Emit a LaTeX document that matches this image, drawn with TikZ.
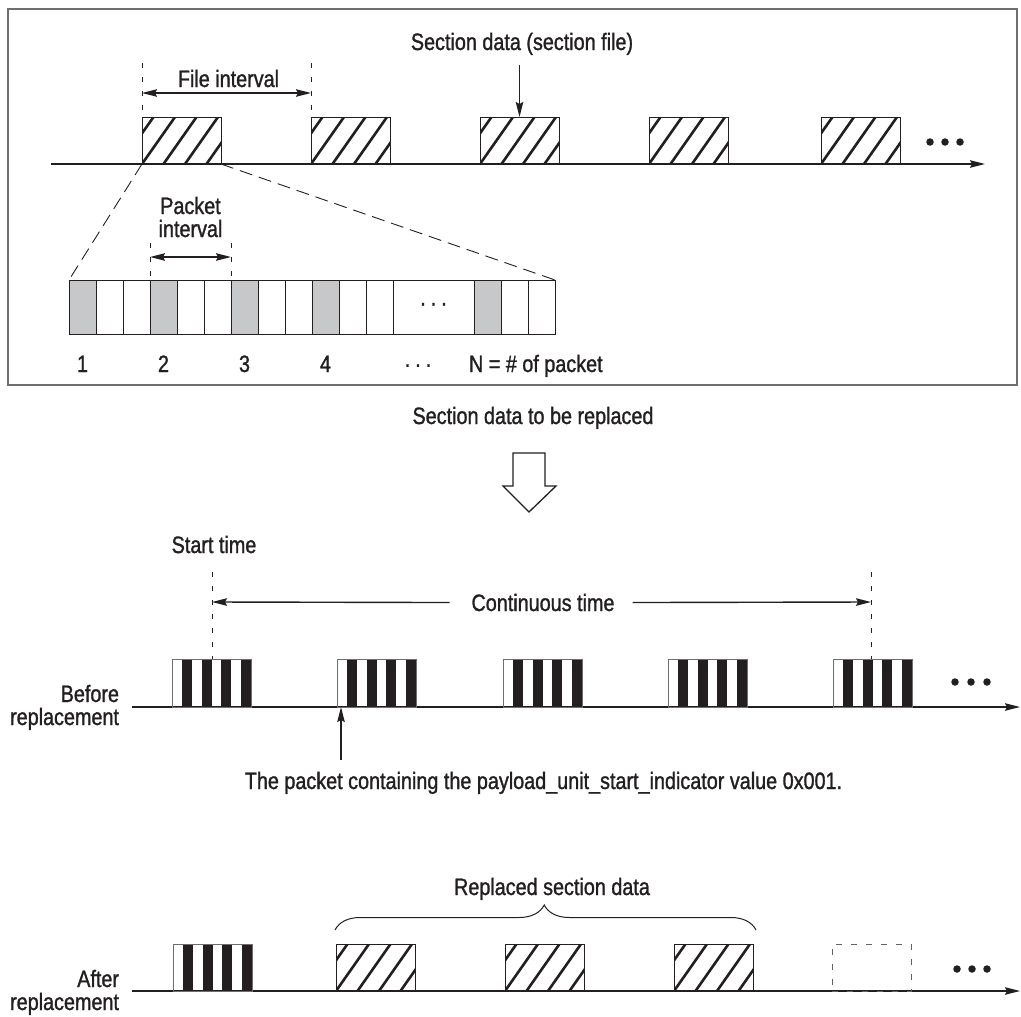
\documentclass[tikz,border=0pt]{standalone}
\usepackage{fontspec}
\setmainfont[FakeStretch=0.835,FakeBold=1.2]{Liberation Sans}
\usetikzlibrary{arrows.meta,decorations.pathreplacing,calc}
\definecolor{ink}{HTML}{231F20}
\definecolor{framegray}{HTML}{6D6E70}
\definecolor{cellgray}{HTML}{C7C8CA}
\begin{document}
\begin{tikzpicture}[x=1pt,y=-1pt,
  every node/.style={inner sep=0pt,outer sep=0pt},
  lbl/.style={font=\fontsize{23.7pt}{23pt}\selectfont,text=ink,anchor=base},
  lble/.style={lbl,anchor=base east},
  lblw/.style={lbl,anchor=base west},
  tipstyle/.style={-{Stealth[length=15pt,width=7.5pt,inset=2pt]}},
  axisline/.style={line width=1.4pt,draw=ink,tipstyle},
  arr/.style={line width=1.4pt,draw=ink,tipstyle},
  dblarr/.style={line width=1.4pt,draw=ink,{Stealth[length=15pt,width=7.5pt,inset=2pt]}-{Stealth[length=15pt,width=7.5pt,inset=2pt]}},
  vdash/.style={line width=0.9pt,draw=ink,dash pattern=on 5pt off 9pt},
  zoomdash/.style={line width=0.9pt,draw=ink,dash pattern=on 13pt off 7pt},
  hatchbox/.style={draw=ink,line width=1pt,minimum width=79pt,minimum height=47pt,anchor=north west,
    path picture={
      \foreach \k in {-1,...,3}{
        \draw[ink,line width=2.6pt] ([xshift={\k*21.5pt}]path picture bounding box.south west) -- ++(33pt,47pt);
      }
    }},
  stripebox/.style={draw=ink!65,line width=0.8pt,minimum width=79pt,minimum height=48pt,anchor=north west,
    path picture={
      \foreach \k in {1,3,5,7}{
        \fill[ink] ([xshift={\k*9.875pt}]path picture bounding box.south west) rectangle ++(9.875pt,48pt);
      }
    }},
  emptybox/.style={draw=ink!70,line width=0.9pt,dash pattern=on 6pt off 9pt,minimum width=79pt,minimum height=47pt,anchor=north west},
  cell/.style={draw=ink,line width=0.9pt,minimum width=27pt,minimum height=54pt,anchor=north west},
  gcell/.style={cell,fill=cellgray},
  dot/.style={circle,fill=ink,minimum size=7.5pt},
  brace/.style={draw=ink,line width=1pt,decorate,decoration={brace,amplitude=25pt,aspect=0.497}}
]
\useasboundingbox (0,0) rectangle (1021,1017);

% ---------- top panel ----------
\draw[framegray,line width=1.8pt] (8,9) rectangle (1017,385);

\coordinate (ax0) at (51,164);
\coordinate (ax1) at (985,164);
\draw[axisline] (ax0) -- (ax1);

\node[hatchbox] (f1) at (142,117) {};
\node[hatchbox] (f2) at (311,117) {};
\node[hatchbox] (f3) at (480,117) {};
\node[hatchbox] (f4) at (649,117) {};
\node[hatchbox] (f5) at (821,117) {};

\node[dot] (td1) at (930,142) {};
\node[dot] (td2) at (945,142) {};
\node[dot] (td3) at (960,142) {};

\node[lbl] (secdata) at (522,50) {Section data (section file)};
\draw[arr] ([yshift=-10pt]secdata.south -| f3.north) -- (f3.north);

\node[lbl] (fileint) at (228.5,87) {File interval};
\coordinate (fiL) at (142,63);
\coordinate (fiR) at (311,63);
\draw[vdash] (fiL) -- (f1.north west);
\draw[vdash] (fiR) -- (f2.north west);
\coordinate (faL) at (142,93);
\coordinate (faR) at (311,93);
\draw[dblarr] (faL) -- (faR);

% packet row
\foreach \i/\s in {0/gcell,1/cell,2/cell,3/gcell,4/cell,5/cell,6/gcell,7/cell,8/cell,9/gcell,10/cell,11/cell}
  \node[\s] (c\i) at ({69+27*\i},280) {};
\node[cell,minimum width=81pt,font=\fontsize{23.7pt}{23pt}\selectfont,text=ink] (cw) at (393,280) {·\,·\,·};
\node[gcell] (c12) at (474,280) {};
\node[cell] (c13) at (501,280) {};
\node[cell] (c14) at (528,280) {};

\draw[zoomdash] (f1.south west) -- (c0.north west);
\draw[zoomdash] (f1.south east) -- (c14.north east);

\node[lbl] (pk1) at (190.5,214) {Packet};
\node[lbl] (pk2) at (190.5,237) {interval};
\coordinate (piL) at (150,243);
\coordinate (piR) at (231,243);
\draw[vdash] (piL) -- (c3.north west);
\draw[vdash] (piR) -- (c6.north west);
\coordinate (paL) at (150,257);
\coordinate (paR) at (231,257);
\draw[dblarr] (paL) -- (paR);

\node[lbl] (n1) at (82.5,372) {1};
\node[lbl] (n2) at (163.5,372) {2};
\node[lbl] (n3) at (244.5,372) {3};
\node[lbl] (n4) at (325.5,372) {4};
\node[lbl] (nd) at (418,372) {·\,·\,·};
\node[lblw] (nN) at (469,372) {N = \# of packet};

% ---------- middle ----------
\node[lbl] (tobe) at (533,424) {Section data to be replaced};
\draw[ink,line width=1.3pt,fill=white,line join=miter]
  (513,453) -- (545,453) -- (545,486) -- (556,486) -- (529,512) -- (503,486) -- (513,486) -- cycle;

% ---------- before replacement ----------
\node[lbl] (st) at (214,553) {Start time};
\node[lbl] (cont) at (543,611) {Continuous time};

\coordinate (bx0) at (132,707);
\coordinate (bx1) at (1020,707);
\draw[axisline] (bx0) -- (bx1);

\node[stripebox] (b1) at (172,659) {};
\node[stripebox] (b2) at (337,659) {};
\node[stripebox] (b3) at (503,659) {};
\node[stripebox] (b4) at (668,659) {};
\node[stripebox] (b5) at (833,659) {};

\coordinate (stT) at (212,572);
\coordinate (stB) at (212,659);
\coordinate (ctT) at (871,572);
\coordinate (ctB) at (871,659);
\draw[vdash] (stT) -- (stB);
\draw[vdash] (ctT) -- (ctB);
\coordinate (stA) at (212,602);
\coordinate (ctA) at (871,602);
\draw[arr] ([xshift=-22pt]cont.west) -- (stA);
\draw[arr] ([xshift=18pt]cont.east) -- (ctA);

\node[dot] (bd1) at (955,682) {};
\node[dot] (bd2) at (971,682) {};
\node[dot] (bd3) at (987,682) {};

\node[lble] (bef1) at (119,702) {Before};
\node[lble] (bef2) at (119,725) {replacement};

\node[lbl] (pkt) at (543.5,789) {The packet containing the payload\_unit\_start\_indicator value 0x001.};
\coordinate (upA) at (341,707);
\draw[arr] (pkt.north -| upA) ++(0,-12) -- (upA);

% ---------- after replacement ----------
\coordinate (ax2) at (132,991);
\coordinate (ax3) at (1020,991);
\draw[axisline] (ax2) -- (ax3);

\node[stripebox,minimum height=47pt] (a1) at (173,944) {};
\node[hatchbox] (a2) at (336,944) {};
\node[hatchbox] (a3) at (505,944) {};
\node[hatchbox] (a4) at (674,944) {};
\node[emptybox] (a5) at (832,944) {};

\node[dot] (ad1) at (957,969) {};
\node[dot] (ad2) at (972,969) {};
\node[dot] (ad3) at (987,969) {};

\node[lble] (aft1) at (119,987) {After};
\node[lble] (aft2) at (119,1010) {replacement};

\coordinate (brL) at (335,930);
\coordinate (brR) at (756,930);
\draw[brace] (brL) -- (brR);
\node[lbl] (rsd) at (552,895) {Replaced section data};
\end{tikzpicture}
\end{document}
